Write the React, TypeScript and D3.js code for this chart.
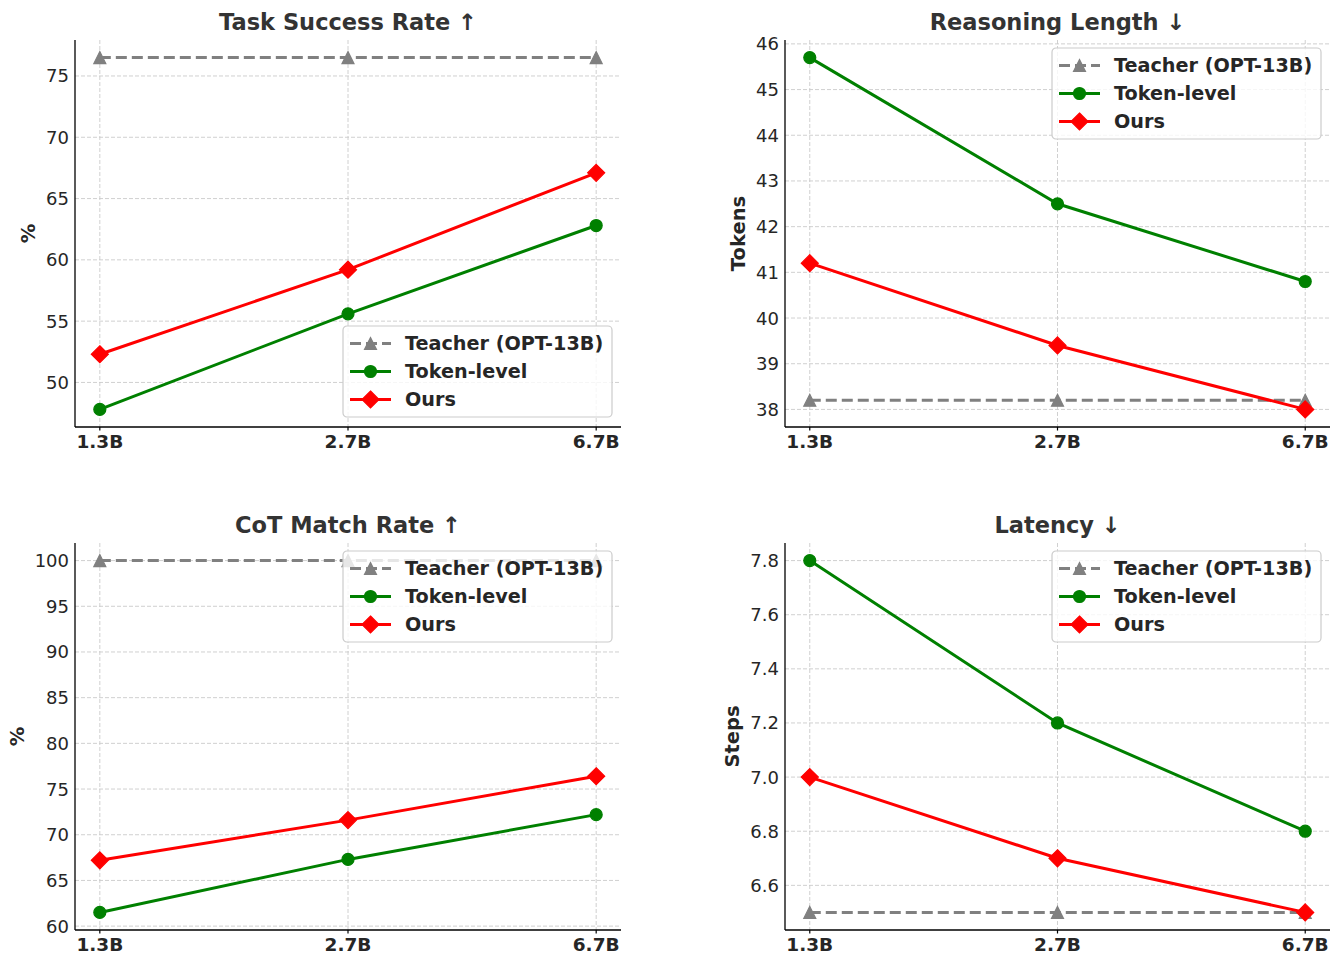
import React from "react";
import * as d3 from "d3";

// model sizes on the x axis
const sizes = ["1.3B", "2.7B", "6.7B"];
const seriesNames = ["Teacher (OPT-13B)", "Token-level", "Ours"];
const seriesColors = ["#808080", "#008000", "#ff0000"];

// Task Success Rate (%)
const successTeacher = [76.5, 76.5, 76.5];
const successToken = [47.8, 55.6, 62.8];
const successOurs = [52.3, 59.2, 67.1];
const successTicks = [50, 55, 60, 65, 70, 75];

// Reasoning Length (tokens)
const lengthTeacher = [38.2, 38.2, 38.2];
const lengthToken = [45.7, 42.5, 40.8];
const lengthOurs = [41.2, 39.4, 38.0];
const lengthTicks = [38, 39, 40, 41, 42, 43, 44, 45, 46];

// CoT Match Rate (%)
const cotTeacher = [100, 100, 100];
const cotToken = [61.5, 67.3, 72.2];
const cotOurs = [67.2, 71.6, 76.4];
const cotTicks = [60, 65, 70, 75, 80, 85, 90, 95, 100];

// Latency (steps)
const latencyTeacher = [6.5, 6.5, 6.5];
const latencyToken = [7.8, 7.2, 6.8];
const latencyOurs = [7.0, 6.7, 6.5];
const latencyTicks = [6.6, 6.8, 7.0, 7.2, 7.4, 7.6, 7.8];

const W = 1333;
const H = 953;
const FONT = "'DejaVu Sans', sans-serif";

interface PanelProps {
  title: string;
  ylabel: string;
  series: number[][];
  ticks: number[];
  fmt: (v: number) => string;
  left: number;
  right: number;
  top: number;
  bottom: number;
  legendPos: "lr" | "ur";
}

const markerPath = (i: number) => {
  if (i === 0) return "M0,-6L6,6L-6,6Z";
  if (i === 2) return "M0,-8.5L8.5,0L0,8.5L-8.5,0Z";
  return null;
};

const Marker: React.FC<{ i: number; x: number; y: number }> = ({ i, x, y }) => {
  const c = seriesColors[i];
  const p = markerPath(i);
  if (p === null) {
    return <circle cx={x} cy={y} r={6} fill={c} stroke={c} strokeWidth={1.2} />;
  }
  return <path d={p} transform={`translate(${x},${y})`} fill={c} stroke={c} strokeWidth={1.2} />;
};

const Panel: React.FC<PanelProps> = ({ title, ylabel, series, ticks, fmt, left, right, top, bottom, legendPos }) => {
  const x = d3.scalePoint<string>().domain(sizes).range([left, right]).padding(0.1);
  const all = series.flat();
  const [lo, hi] = d3.extent(all) as [number, number];
  const m = (hi - lo) * 0.05;
  const y = d3.scaleLinear().domain([lo - m, hi + m]).range([bottom, top]);

  const line = d3
    .line<number>()
    .x((_, i) => x(sizes[i])!)
    .y((d) => y(d));

  // rough width of the widest tick label, to park the axis title beside it
  const labelW = d3.max(ticks, (t) => {
    const s = fmt(t);
    return s.replace(".", "").length * 0.636 * 18 + (s.includes(".") ? 0.318 * 18 : 0);
  })!;
  const ylabelX = left - 6 - labelW - 11;

  const lw = 269;
  const lh = 91;
  const lx = right - 9 - lw;
  const ly = legendPos === "lr" ? bottom - 10 - lh : top + 8;

  return (
    <g>
      {/* grid */}
      {ticks.map((t) => (
        <line key={`gy${t}`} x1={left} x2={right} y1={y(t)} y2={y(t)} stroke="#cbcbcb" strokeWidth={0.9} strokeDasharray="4,2" />
      ))}
      {sizes.map((s) => (
        <line key={`gx${s}`} x1={x(s)} x2={x(s)} y1={top} y2={bottom} stroke="#cbcbcb" strokeWidth={0.9} strokeDasharray="4,2" />
      ))}

      {/* series */}
      {series.map((vals, i) => (
        <g key={`s${i}`}>
          <path
            d={line(vals)!}
            fill="none"
            stroke={seriesColors[i]}
            strokeWidth={3}
            strokeDasharray={i === 0 ? "11,5" : undefined}
          />
          {vals.map((v, j) => (
            <Marker key={j} i={i} x={x(sizes[j])!} y={y(v)} />
          ))}
        </g>
      ))}

      {/* spines */}
      <line x1={left} x2={left} y1={top} y2={bottom} stroke="#000" strokeWidth={1.3} />
      <line x1={left} x2={right} y1={bottom} y2={bottom} stroke="#000" strokeWidth={1.3} />

      {/* y ticks */}
      {ticks.map((t) => (
        <text key={`ty${t}`} x={left - 6} y={y(t)} dy="0.36em" textAnchor="end" fontSize={18} fill="#262626" fontFamily={FONT}>
          {fmt(t)}
        </text>
      ))}
      {/* x ticks */}
      {sizes.map((s) => (
        <g key={`tx${s}`}>
          <line x1={x(s)} x2={x(s)} y1={bottom} y2={bottom + 3.5} stroke="#000" strokeWidth={1.2} />
          <text x={x(s)} y={bottom + 7} dy="0.74em" textAnchor="middle" fontSize={18.5} fontWeight="bold" fill="#262626" fontFamily={FONT}>
            {s}
          </text>
        </g>
      ))}

      {/* y label */}
      <text
        transform={`translate(${ylabelX},${(top + bottom) / 2}) rotate(-90)`}
        textAnchor="middle"
        fontSize={19.5}
        fontWeight="bold"
        fill="#262626"
        fontFamily={FONT}
      >
        {ylabel}
      </text>

      {/* title */}
      <text x={(left + right) / 2} y={top - 10} textAnchor="middle" fontSize={22.5} fontWeight="bold" fill="#333" fontFamily={FONT}>
        {title}
      </text>

      {/* legend */}
      <g transform={`translate(${lx},${ly})`}>
        <rect width={lw} height={lh} rx={4} fill="#fff" fillOpacity={0.8} stroke="#cccccc" strokeWidth={1.2} />
        {seriesNames.map((name, i) => {
          const cy = 17.5 + i * 28;
          return (
            <g key={name}>
              <line
                x1={7}
                x2={48}
                y1={cy}
                y2={cy}
                stroke={seriesColors[i]}
                strokeWidth={3}
                strokeDasharray={i === 0 ? "11,5" : undefined}
              />
              <Marker i={i} x={27.5} y={cy} />
              <text x={62} y={cy} dy="0.36em" fontSize={19.2} fontWeight="bold" fill="#262626" fontFamily={FONT}>
                {name}
              </text>
            </g>
          );
        })}
      </g>
    </g>
  );
};

const App: React.FC = () => {
  const f0 = (v: number) => d3.format("d")(v);
  const f1 = (v: number) => d3.format(".1f")(v);
  return (
    <svg width={W} height={H} viewBox={`0 0 ${W} ${H}`} style={{ position: "absolute", left: 0, top: 0, background: "#fff" }}>
      <rect width={W} height={H} fill="#fff" />
      <Panel
        title="Task Success Rate ↑"
        ylabel="%"
        series={[successTeacher, successToken, successOurs]}
        ticks={successTicks}
        fmt={f0}
        left={75}
        right={621}
        top={40}
        bottom={427}
        legendPos="lr"
      />
      <Panel
        title="Reasoning Length ↓"
        ylabel="Tokens"
        series={[lengthTeacher, lengthToken, lengthOurs]}
        ticks={lengthTicks}
        fmt={f0}
        left={785}
        right={1330}
        top={40}
        bottom={427}
        legendPos="ur"
      />
      <Panel
        title="CoT Match Rate ↑"
        ylabel="%"
        series={[cotTeacher, cotToken, cotOurs]}
        ticks={cotTicks}
        fmt={f0}
        left={75}
        right={621}
        top={543}
        bottom={930}
        legendPos="ur"
      />
      <Panel
        title="Latency ↓"
        ylabel="Steps"
        series={[latencyTeacher, latencyToken, latencyOurs]}
        ticks={latencyTicks}
        fmt={f1}
        left={785}
        right={1330}
        top={543}
        bottom={930}
        legendPos="ur"
      />
    </svg>
  );
};

export default App;
